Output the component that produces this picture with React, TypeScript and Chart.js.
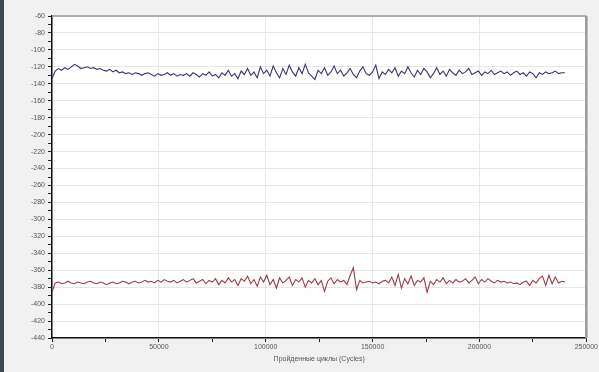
import React, { useEffect, useRef } from "react";
import { Chart, registerables } from "chart.js";

Chart.register(...registerables);

const CYCLES = [
  0, 1500, 3000, 4500, 6000, 7500, 9000, 10500, 12000, 13500,
  15000, 16500, 18000, 19500, 21000, 22500, 24000, 25500, 27000, 28500,
  30000, 31500, 33000, 34500, 36000, 37500, 39000, 40500, 42000, 43500,
  45000, 46500, 48000, 49500, 51000, 52500, 54000, 55500, 57000, 58500,
  60000, 61500, 63000, 64500, 66000, 67500, 69000, 70500, 72000, 73500,
  75000, 76500, 78000, 79500, 81000, 82500, 84000, 85500, 87000, 88500,
  90000, 91500, 93000, 94500, 96000, 97500, 99000, 100500, 102000, 103500,
  105000, 106500, 108000, 109500, 111000, 112500, 114000, 115500, 117000, 118500,
  120000, 121500, 123000, 124500, 126000, 127500, 129000, 130500, 132000, 133500,
  135000, 136500, 138000, 139500, 141000, 142500, 144000, 145500, 147000, 148500,
  150000, 151500, 153000, 154500, 156000, 157500, 159000, 160500, 162000, 163500,
  165000, 166500, 168000, 169500, 171000, 172500, 174000, 175500, 177000, 178500,
  180000, 181500, 183000, 184500, 186000, 187500, 189000, 190500, 192000, 193500,
  195000, 196500, 198000, 199500, 201000, 202500, 204000, 205500, 207000, 208500,
  210000, 211500, 213000, 214500, 216000, 217500, 219000, 220500, 222000, 223500,
  225000, 226500, 228000, 229500, 231000, 232500, 234000, 235500, 237000, 238500,
  240000,
];

const BLUE_SERIES = [
  -134, -125, -122, -124, -121, -123, -120, -117, -119, -122, -121,
  -120, -122, -121, -123, -122, -124, -125, -123, -126, -124,
  -127, -126, -128, -127, -129, -127, -128, -130, -128, -127, -129, -131, -128, -130, -129, -127, -130, -128, -131, -129,
  -130, -128, -131, -127, -129, -132, -128, -130, -126, -131, -129, -133, -127, -130, -124, -131, -128, -134, -125, -129,
  -122, -130, -126, -133, -120, -128, -124, -131, -119, -127, -133, -122, -129, -118, -126, -131, -121, -128, -117, -127,
  -131, -135, -124, -128, -121, -130, -126, -119, -128, -124, -131, -127, -122, -129, -133, -125, -120, -128, -130, -126,
  -118, -134, -126, -129, -123, -127, -121, -131, -125, -128, -120, -127, -132, -124, -129, -122, -126, -133, -128, -121,
  -129, -125, -131, -123, -127, -130, -124, -128, -126, -122, -129, -127, -125, -130, -126, -128, -124, -129, -127, -125,
  -128, -126, -130, -127, -125, -129, -127, -131, -126, -128, -133, -127, -129, -126, -128, -127, -125, -128, -127, -127,
];

const RED_SERIES = [
  -386, -375, -374, -376, -375, -373, -375, -376, -374, -375, -376,
  -374, -373, -375, -376, -374, -375, -377, -375, -374, -376,
  -375, -373, -374, -376, -374, -373, -375, -374, -372, -374, -373, -375, -372, -374, -371, -373, -374, -372, -375, -373,
  -371, -374, -372, -370, -375, -373, -371, -376, -372, -374, -370, -377, -372, -375, -369, -374, -371, -378, -370, -373,
  -367, -376, -371, -379, -368, -374, -366, -377, -371, -381, -369, -375, -372, -368, -378, -371, -374, -369, -380, -372,
  -375, -370, -377, -372, -385, -373, -369, -376, -371, -374, -372, -377, -366, -357, -383, -372, -375, -374, -373, -375,
  -374, -376, -373, -372, -375, -368, -378, -365, -381, -370, -376, -367, -378, -372, -374, -369, -386, -373, -377, -371,
  -374, -369, -376, -372, -375, -371, -374, -373, -370, -375, -372, -368, -376, -371, -374, -370, -373, -375, -372, -374,
  -373, -375, -374, -376, -375, -377, -374, -373, -378, -372, -375, -370, -367, -378, -366, -376, -368, -375, -373, -374,
];

const Y_MIN = -440;
const Y_MAX = -60;
const X_MAX = 250000;
const X_TITLE = "Пройденные циклы (Cycles)";

export default function App() {
  const ref = useRef<HTMLCanvasElement | null>(null);

  useEffect(() => {
    document.body.style.margin = "0";
    const canvas = ref.current;
    if (!canvas) return;

    const frame = {
      id: "frame",
      beforeDatasetsDraw(chart: any) {
        const { ctx, chartArea } = chart;
        ctx.save();
        ctx.strokeStyle = "#9a9a9a";
        ctx.lineWidth = 1.5;
        ctx.beginPath();
        ctx.moveTo(chartArea.left, chartArea.top);
        ctx.lineTo(chartArea.right, chartArea.top);
        ctx.stroke();
        ctx.lineWidth = 2.5;
        ctx.beginPath();
        ctx.moveTo(chartArea.right, chartArea.top);
        ctx.lineTo(chartArea.right, chartArea.bottom);
        ctx.stroke();
        ctx.restore();
      },
    };

    const bg = {
      id: "bg",
      beforeDraw(chart: any) {
        const { ctx, chartArea } = chart;
        ctx.save();
        ctx.fillStyle = "#ffffff";
        ctx.fillRect(chartArea.left, chartArea.top, chartArea.right - chartArea.left, chartArea.bottom - chartArea.top);
        ctx.restore();
      },
    };

    const chart = new Chart(canvas, {
      type: "line",
      data: {
        datasets: [
          {
            label: "A",
            data: CYCLES.map((x, i) => ({ x, y: BLUE_SERIES[i] })),
            borderColor: "#363672",
            borderWidth: 1.1,
            pointRadius: 0,
            tension: 0,
          },
          {
            label: "B",
            data: CYCLES.map((x, i) => ({ x, y: RED_SERIES[i] })),
            borderColor: "#9e3a4a",
            borderWidth: 1.1,
            pointRadius: 0,
            tension: 0,
          },
        ],
      },
      options: {
        animation: false,
        responsive: false,
        maintainAspectRatio: false,
        layout: { padding: { top: 16, right: 8, left: 0, bottom: 9 } },
        plugins: { legend: { display: false }, tooltip: { enabled: false } },
        scales: {
          x: {
            type: "linear",
            min: 0,
            max: X_MAX,
            afterFit(scale: any) {
              scale.height = 25;
            },
            ticks: {
              stepSize: 25000,
              autoSkip: false,
              maxRotation: 0,
              padding: 1,
              color: "#555",
              font: { family: "Liberation Sans", size: 7 },
              callback: (v: any) => (Number(v) % 50000 === 0 ? String(v) : ""),
            },
            grid: {
              color: (c: any) => (c.tick && c.tick.value % 50000 === 0 ? "#e6e6e6" : "transparent"),
              tickColor: "#222",
              tickLength: 4,
            },
            border: { color: "#111", width: 1.5 },
            title: {
              display: true,
              text: X_TITLE,
              color: "#555",
              font: { family: "Liberation Sans", size: 7 },
              padding: { top: 0, bottom: 0 },
            },
          },
          y: {
            min: Y_MIN,
            max: Y_MAX,
            afterFit(scale: any) {
              scale.width = 52;
            },
            ticks: {
              stepSize: 10,
              autoSkip: false,
              padding: 3,
              color: "#555",
              font: { family: "Liberation Sans", size: 7 },
              callback: (v: any) => (Number(v) % 20 === 0 ? String(v) : ""),
            },
            grid: {
              color: (c: any) => (c.tick && c.tick.value % 20 === 0 ? "#e6e6e6" : "transparent"),
              tickColor: "#222",
              tickLength: 4,
            },
            border: { color: "#111", width: 1.5 },
          },
        },
      },
      plugins: [bg, frame],
    } as any);

    return () => chart.destroy();
  }, []);

  return (
    <div style={{ position: "relative", width: 599, height: 372, background: "#f1f1f1" }}>
      <div style={{ position: "absolute", left: 0, top: 0, width: 4, height: 372, background: "#3b4652" }} />
      <canvas ref={ref} width={599} height={372} style={{ display: "block", position: "absolute", left: 0, top: 0 }} />
    </div>
  );
}
